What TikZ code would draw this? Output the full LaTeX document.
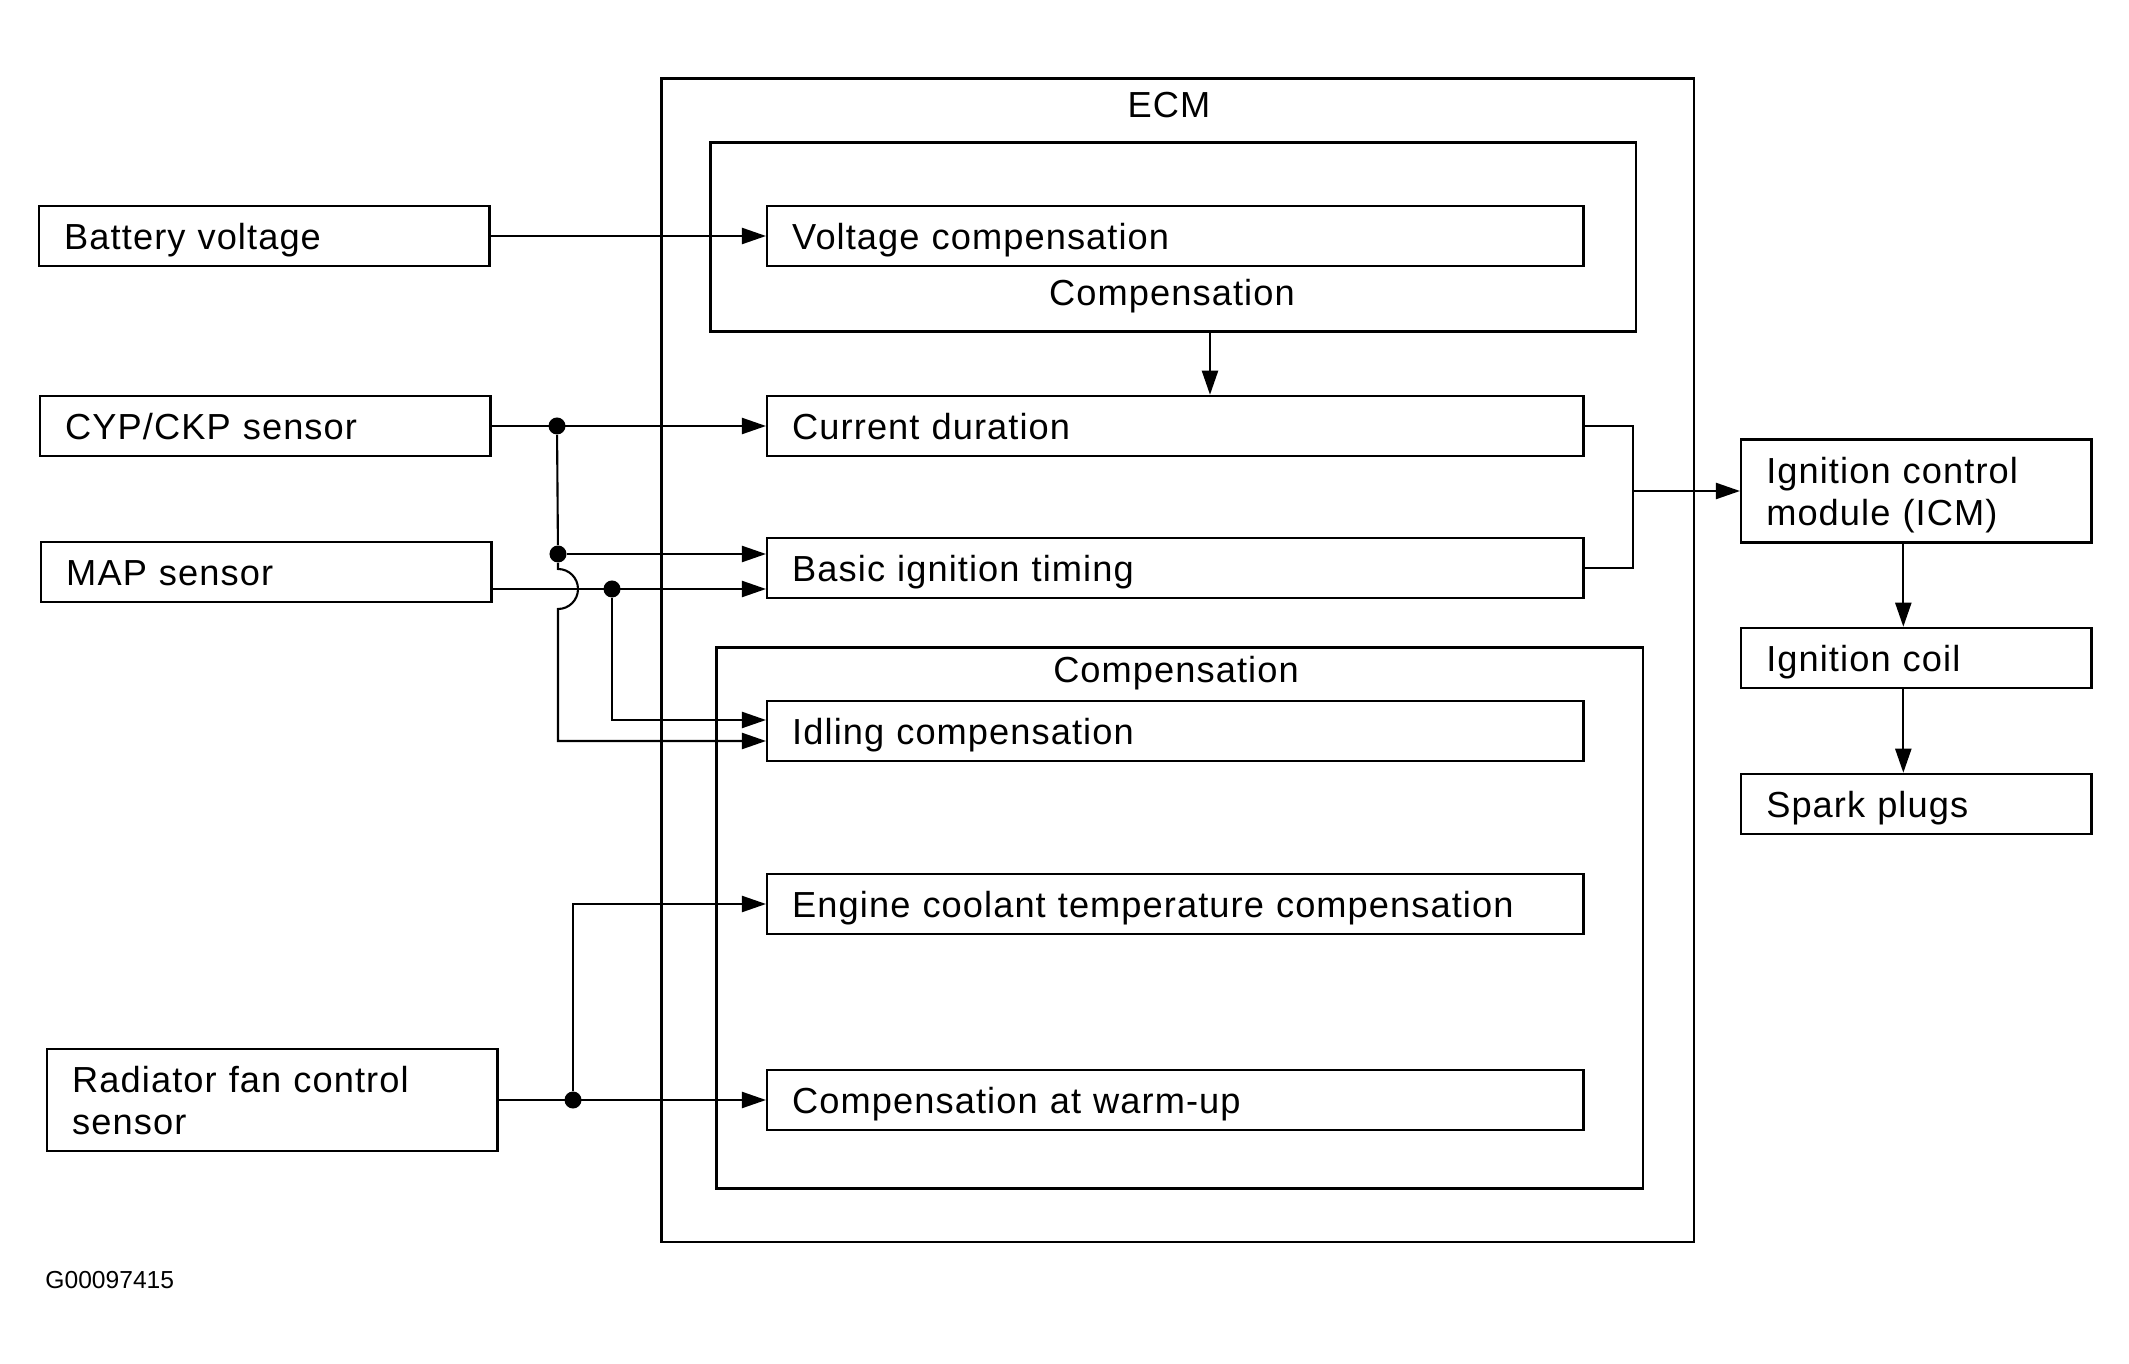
\documentclass[tikz,border=0pt]{standalone}
\usepackage{fontspec}
\setmainfont[LetterSpace=3]{Liberation Sans}
\newfontfamily\codefont{Liberation Sans}
\usetikzlibrary{arrows.meta,positioning}
\tikzset{
  box/.style    = {draw, line width=0.7pt, font=\fontsize{10.3}{12}\selectfont,
                   align=left, inner xsep=0.25cm, inner ysep=0pt, anchor=west,
                   text height=7.8pt, text depth=0pt},
  twoline/.style = {text depth=12pt},
  sensor/.style = {box, text width=4.0cm, minimum height=0.6cm},
  stage/.style  = {box, text width=7.66cm, minimum height=0.6cm},
  output/.style = {box, text width=3.0cm, minimum height=0.6cm},
  frame/.style  = {draw, line width=0.8pt, inner sep=0pt, anchor=north west},
  lbl/.style    = {font=\fontsize{10.3}{12}\selectfont},
  dot/.style    = {circle, fill, inner sep=0pt, minimum size=0.17cm},
  wire/.style   = {line width=0.6pt}
}

\begin{document}
\begin{tikzpicture}[x=0.01cm, y=-0.01cm,
  >={Triangle[length=2.4mm,width=1.6mm]}]
\useasboundingbox (0,0) rectangle (2129,1364);

% ECM frame and the two compensation groups
\node[frame, minimum width=10.32cm, minimum height=11.63cm] (ecm) at (660,77) {};
\node[frame, minimum width=9.25cm, minimum height=1.89cm] (ucomp) at (709,141) {};
\node[frame, minimum width=9.26cm, minimum height=5.41cm] (lcomp) at (715,646) {};
\node[lbl] (ecmlbl) at (1169,105) {ECM};
\node[lbl] (ucomplbl) at (1172,296) {Compensation};
\node[lbl] (lcomplbl) at (1176,673) {Compensation};

% input signals
\node[sensor] (batt) at (38,236) {Battery voltage};
\node[sensor] (cyp) at (39,426) {CYP/CKP sensor};
\node[sensor] (map) at (40,572) {MAP sensor};
\node[sensor, twoline, minimum height=1.02cm] (rad) at (46,1100) {Radiator fan control\\sensor};

% functions inside the ECM
\node[stage] (volt) at (766,236) {Voltage compensation};
\node[stage] (cur) at (766,426) {Current duration};
\node[stage] (bit) at (766,568) {Basic ignition timing};
\node[stage] (idle) at (766,731) {Idling compensation};
\node[stage] (ect) at (766,904) {Engine coolant temperature compensation};
\node[stage] (warm) at (766,1100) {Compensation at warm-up};

% outputs
\node[output, twoline, minimum height=1.03cm] (icm) at (1740,491) {Ignition control\\module (ICM)};
\node[output] (coil) at (1740,658) {Ignition coil};
\node[output] (plug) at (1740,804) {Spark plugs};

\node[font=\codefont\fontsize{7}{8}\selectfont, anchor=west] (code) at (33,1280) {G00097415};

% junctions
\node[dot] (j1) at (557,426) {};
\node[dot] (j2) at (558,554) {};
\node[dot] (j3) at (612,589) {};
\node[dot] (j4) at (573,1100) {};
\coordinate (hop) at (558,589);
\coordinate (mrg) at (1633,491);
\coordinate (drop) at (1210,0);

% connectors
\draw[wire,->] (batt) -- (volt);
\draw[wire,->] (ucomp.south -| drop) -- (cur.north -| drop);
\draw[wire,->] (cyp) -- (cur);
\draw[wire] (j1) -- (j2);
\draw[wire,->] (j2) -- (j2 -| bit.west);
\draw[wire,->] (map.east |- j3) -- (j3 -| bit.west);
\draw[wire,->] (j3) |- ([yshift=0.11cm]idle.west);
\draw[wire,->] (j2) -- ([yshift=0.2cm]hop) arc[start angle=90, end angle=-90, radius=0.2cm]
  |- ([yshift=-0.1cm]idle.west);
\draw[wire] (cur.east) -| (mrg);
\draw[wire] (bit.east) -| (mrg);
\draw[wire,->] (mrg) -- (icm.west);
\draw[wire,->] ([xshift=-0.13cm]icm.south) -- ([xshift=-0.13cm]coil.north);
\draw[wire,->] ([xshift=-0.13cm]coil.south) -- ([xshift=-0.13cm]plug.north);
\draw[wire,->] (rad) -- (warm);
\draw[wire,->] (j4) |- (ect.west);
\end{tikzpicture}
\end{document}
